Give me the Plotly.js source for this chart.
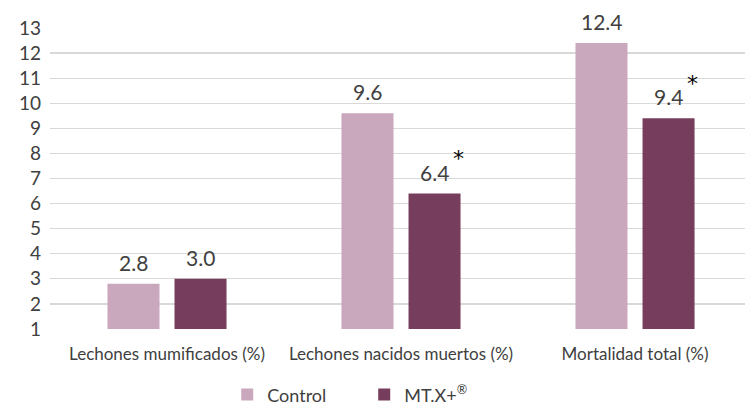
<!DOCTYPE html>
<html><head><meta charset="utf-8">
<script src="https://cdn.plot.ly/plotly-3.0.1.min.js"></script>
<style>body{margin:0;background:#fff}#c{width:745px;height:407px}</style>
</head><body><div id="c"></div>
<script>
const categories = ["Lechones mumificados (%)", "Lechones nacidos muertos (%)", "Mortalidad total (%)"];
const controlValues = [2.8, 9.6, 12.4];
const mtxValues = [3.0, 6.4, 9.4];
const seriesNames = ["Control", "MT.X+<sup>®</sup>"];
const significance = ["", "*", "*"];
const yTicks = [1,2,3,4,5,6,7,8,9,10,11,12,13];

const font = "Lato, 'Open Sans', sans-serif";
const textColor = "#404040";
const xIdx = categories.map((_, i) => i);

const traces = [
  {type:"bar", x:xIdx, y:controlValues, name:seriesNames[0], marker:{color:"#C9A8BE"}, hoverinfo:"skip"},
  {type:"bar", x:xIdx, y:mtxValues, name:seriesNames[1], marker:{color:"#763E5C"}, hoverinfo:"skip"}
];

const annotations = [];
[controlValues, mtxValues].forEach((vals, s) => {
  vals.forEach((v, i) => annotations.push({x:i, y:v, xref:"x", yref:"y", text:v.toFixed(1),
    showarrow:false, xshift: s === 0 ? -33.5 : 33.5, yanchor:"bottom", yshift:7,
    font:{size:21, color:textColor, family:font}}));
});
significance.forEach((s, i) => {
  if (s) annotations.push({x:i, y:mtxValues[i], xref:"x", yref:"y", text:s, showarrow:false,
    xshift:57, yshift:35, font:{size:22, color:"#000", family:"DejaVu Sans"}});
});

const layout = {
  width:745, height:407,
  margin:{l:50, r:0, t:28, b:78},
  paper_bgcolor:"#fff", plot_bgcolor:"#fff",
  barmode:"group", bargap:0.427, bargroupgap:0.224,
  font:{family:font, color:textColor},
  xaxis:{range:[-0.5, 2.47], tickvals:xIdx, ticktext:categories, showgrid:false, zeroline:false,
    showline:false, ticks:"", tickfont:{size:17, color:textColor, family:font},
    ticklabelstandoff:13, fixedrange:true},
  yaxis:{range:[1, 13], tickvals:yTicks, showgrid:true, gridcolor:"#D9D9D9", gridwidth:1.3,
    zeroline:false, showline:false, ticks:"", tickfont:{size:19, color:textColor, family:font},
    ticklabelstandoff:8, fixedrange:true},
  showlegend:true,
  legend:{orientation:"h", xref:"container", yref:"container", x:0.305, xanchor:"left",
    y:0.03, yanchor:"middle", entrywidthmode:"pixels", entrywidth:92,
    font:{size:18, color:textColor, family:font}, itemwidth:30, traceorder:"normal"},
  annotations:annotations
};
Plotly.newPlot("c", traces, layout, {displayModeBar:false, staticPlot:true});
</script></body></html>
